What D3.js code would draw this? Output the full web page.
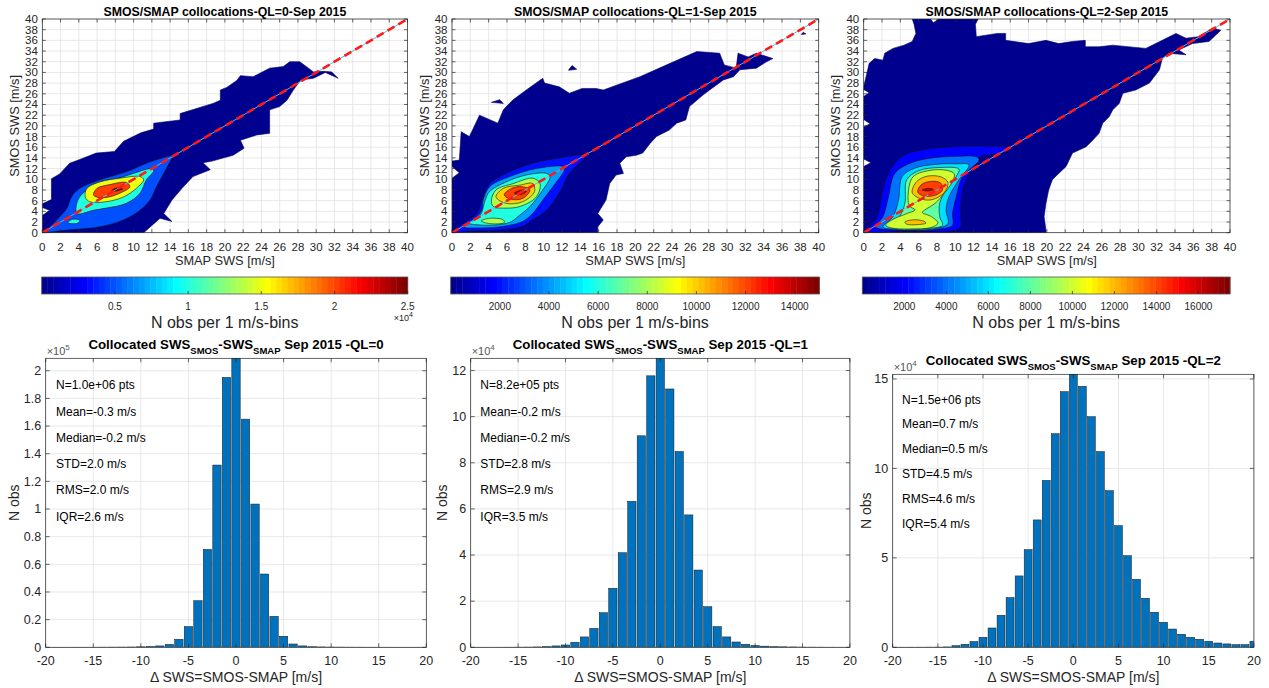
<!DOCTYPE html>
<html><head><meta charset="utf-8">
<script src="https://cdn.jsdelivr.net/npm/d3@7"></script>
<style>
body{margin:0;background:#fff;}
svg{display:block;font-family:"Liberation Sans",Arial,Helvetica,sans-serif;}
</style></head><body>
<svg id="chart" width="1269" height="688"></svg>
<script>
// ---------------- DATA ----------------
const scatterTitles = ["SMOS/SMAP collocations-QL=0-Sep 2015","SMOS/SMAP collocations-QL=1-Sep 2015","SMOS/SMAP collocations-QL=2-Sep 2015"];
const swsTicks = [0,2,4,6,8,10,12,14,16,18,20,22,24,26,28,30,32,34,36,38,40];
const colorbarMax = [25000, 15000, 17500];
const cbTicks0 = [5000,10000,15000,20000,25000];
const cbTicks1 = [2000,4000,6000,8000,10000,12000,14000];
const cbTicks2 = [2000,4000,6000,8000,10000,12000,14000,16000];

// contour outlines [SMAP SWS, SMOS SWS] per level
const ql0_l0 = [[0,0],[11.1,0],[12.9,2.7],[14.2,2.1],[13.3,3.6],[14.2,6.1],[15.3,8.3],[16.5,10.5],[18.4,11.8],[17.6,13.1],[18.6,13.4],[20.9,14.5],[22.1,15.8],[21.7,17.3],[23.5,18.3],[24.9,18.6],[24.9,23],[26,23.6],[26.8,24.8],[27.5,26.7],[28.3,28.6],[29.7,28.9],[31,30],[32.4,28.9],[31.7,30.1],[30.8,30.2],[29.7,30.1],[28.2,32],[27.1,32],[26.4,31.1],[24.9,30.8],[23.1,29.2],[21.7,29.4],[21.3,28.5],[20.2,27.2],[19.5,26.7],[19.5,24.8],[18.7,24.2],[15.1,22.3],[15.1,21.1],[12.2,20.5],[12.2,19.4],[10.8,18.7],[8.9,17.1],[7.9,15.2],[5.9,14.9],[4.1,13.7],[3,13],[1.9,11],[1,10.1],[1,6.2],[0,5.4],[0,4.7],[0.8,4.2],[0,3.2]];
const ql0_l5000 = [[0.1,0.1],[2.7,0.5],[6.3,1.1],[8.9,2.4],[10.7,4.2],[11.8,6.1],[12.5,8.6],[13.3,11.1],[14.2,13.9],[14.4,14.4],[13.6,14.2],[11.4,13],[9.2,11.4],[6.3,9.9],[4.1,8.3],[3.2,6.7],[2.7,4.6],[1.75,2.7],[0.5,0.6]];
const ql0_l10000a = [[3.8,3.6],[3.9,6.1],[4.9,8],[7.4,9.6],[10,11.1],[12,12],[12.2,11.6],[11.4,9.9],[10.7,7.4],[9.2,5.5],[7,4.6],[5.6,4.2]];
const ql0_l10000b = [[2.8,1.9],[3.3,2.5],[4.1,2.3],[3.9,1.8],[3.2,1.7]];
const ql0_l15000 = [[4.7,6.7],[4.9,8.3],[6.3,9.5],[8.5,10.2],[10.7,10.5],[11.1,9.9],[10.3,8.3],[8.9,6.7],[7,5.8],[5.2,5.8]];
const ql0_l20000 = [[5.6,7.1],[6,8.3],[7.4,9],[9.2,9.4],[9.6,8.6],[8.5,7.4],[7,6.6],[5.9,6.7]];
const ql0_l25000 = [[7.6,7.9],[8.2,8.4],[8.8,8.2],[8.1,7.8]];

const ql1_l0 = [[0,0],[0,10.2],[0.8,11.2],[0,12.4],[0,13.4],[0.8,13.6],[1,18.9],[1.9,18],[3,22],[5,20.5],[5.6,23],[6.6,24.8],[8.1,26.7],[9.9,28.9],[10.1,28],[11.7,27.3],[12.8,26.1],[14.2,27],[15.7,27],[16.5,26.7],[20.5,29.2],[23,31.1],[26.7,33.9],[29.2,33.6],[29.7,31.4],[31,30.8],[31.2,33.6],[32.3,32.9],[33.2,33.6],[35,32.6],[34.3,32],[33.2,30.8],[31.4,30.5],[30.7,29.2],[29.6,28.6],[28.1,26.7],[27.4,25.8],[25.9,23.6],[25.5,21.1],[24.5,20.5],[23.7,19.2],[22.3,18],[21.6,16.7],[20.8,14.9],[20.1,14.5],[19,14.2],[18.3,13],[18.7,11.1],[17.9,10.8],[17.2,9.2],[16.8,6.1],[15.9,3.6],[16.5,2.4],[15.9,1.1],[15.9,0]];
const ql1_l0b = [[4.3,24.4],[5.6,24.2],[5.2,24.9]];
const ql1_l0c = [[12.7,30.4],[13.6,30.6],[13.1,31.3]];
const ql1_l0d = [[38.1,37.1],[38.6,37.2],[38.3,37.5]];
const ql1_l2000 = [[0.1,0.1],[1.2,1.7],[2.7,3.6],[3.4,6.7],[4.1,9.2],[5.9,11.1],[8.8,13],[11.4,13.9],[14.2,14.5],[14.5,14.2],[12.8,11.1],[11.7,7.4],[10.3,4.2],[8.8,2.4],[7.7,1.2],[5.2,0.5],[2,0.3]];
const ql1_l4000 = [[1.2,1.1],[2.3,2.4],[3.2,4],[3.4,6.1],[4.1,8.6],[6.3,10.5],[9.2,12],[12.1,12.4],[12.3,12],[11,8.6],[9.9,6.1],[8.8,3.6],[7.7,2.1],[5.6,1.2],[3.4,0.9]];
const ql1_l6000 = [[1.8,1.8],[2.6,2.5],[3.2,3.6],[3.6,6],[4.1,7.7],[5.9,9.5],[8.1,10.8],[10.3,11.1],[10.7,10.5],[9.9,8],[8.5,4.9],[7.4,3.3],[6.5,2.1],[5.5,1.6],[3.5,1.4]];
const ql1_l8000a = [[4.3,6.1],[4.8,8],[6.7,9.2],[8.8,10.2],[9.6,9.2],[9.2,6.7],[7.4,4.9],[5.9,4.6],[4.5,4.9]];
const ql1_l8000b = [[3.2,2.2],[4.1,2.7],[5.6,2.4],[5.7,1.9],[4.1,1.7]];
const ql1_l10000 = [[4.8,6.7],[5.6,8.3],[7.4,8.9],[8.8,9.2],[9,7.7],[7.7,5.8],[5.9,5.5]];
const ql1_l12000 = [[5.7,7.1],[6.5,8.3],[7.7,8.6],[8.5,8],[7.7,6.4],[6.3,6.3]];
const ql1_l14000 = [[6.8,7.4],[7.7,8],[8.1,7.7],[7.4,7.1]];

const ql2_l0 = [[0,0],[0,12.4],[0.8,13.1],[0,13.8],[0,19.8],[0.7,20.4],[0,21.2],[0,25.5],[0.6,26.2],[0,26.8],[0,27.3],[0.6,31.7],[1.2,32.6],[2.1,32.3],[2.3,33.6],[3.2,34.5],[4.4,35.1],[5.3,35.8],[5.7,37.3],[5.5,39],[5.3,40],[7.3,40],[7.6,39.3],[8.2,40],[12.5,40],[12.2,39],[12.3,36.7],[14.6,37.3],[15.5,37.3],[15.5,36],[18,35.4],[19.9,36],[21.3,35.4],[22.8,35.8],[24.2,36],[24.2,34.8],[25.7,34.8],[27.2,35.1],[30.8,34.5],[32.6,36],[34.1,37.3],[35.2,36.4],[36.6,36.7],[38.1,38.3],[39,37.9],[37.7,35.8],[35.9,35.4],[34.4,34.2],[35.2,33.3],[33.3,33.6],[32.6,32.6],[32.3,30.5],[31.2,28],[29.7,26.7],[28.3,26.1],[27.9,24.2],[27.2,23],[26.8,21.7],[26.1,20.5],[25.7,18.6],[25,17.3],[24.3,16.1],[22.8,14.9],[22.1,12.4],[21.3,11.1],[20.6,9.9],[20.2,8],[19.9,5.5],[19.7,3],[19.9,0.5],[19.9,0]];
const ql2_l2000 = [[0.25,0.3],[1,1.7],[1.6,3.6],[2,7.4],[2.7,11.1],[4.1,14.2],[6.3,15.5],[9.7,16.1],[13.3,16.2],[15.9,15.9],[15.2,14.9],[12.6,14.1],[11.5,11.1],[10.8,8],[10.6,3.6],[10.6,1.1],[10,0.4],[5,0.3]];
const ql2_l4000 = [[1.3,1.1],[2.1,3],[2.7,6.7],[3.4,11.1],[5.2,13.1],[7.5,14],[10.1,14.3],[12.3,14.2],[12.6,13.6],[10.8,10.5],[10.1,6.7],[9.7,3.6],[9.7,1.4],[8.3,0.7],[3.5,0.5]];
const ql2_l6000 = [[2.1,1.1],[3.2,3],[3.8,6.1],[4.2,10.5],[5.6,12.1],[7.9,12.8],[10.1,12.9],[11.5,12.7],[10.4,9.9],[9.3,6.7],[9,4.2],[9.2,1.7],[7.9,0.8],[3.5,0.6]];
const ql2_l8000 = [[2.8,1.1],[3.9,3],[4.5,5.5],[4.7,9.9],[6,11.6],[8.3,12.2],[10.4,11.9],[10.1,10.5],[9,8],[8.3,5.5],[8.3,3],[8.6,1.4],[6.8,0.8],[4,0.8]];
const ql2_l10000 = [[5,5],[4.9,8],[5.4,10.5],[7,11.6],[9,11.7],[9.9,11],[9.6,9.3],[8.8,7.4],[7.8,5.5],[6.8,4.4],[6.4,3.8],[7.4,3],[8.1,1.8],[7.4,1],[5,0.7],[3,0.9],[2.4,1.4],[3.2,2.5],[4.6,3.5],[5.6,4.3]];
const ql2_l12000a = [[5.3,7.5],[5.8,9.6],[7,10.6],[8.5,10.4],[9.2,9.4],[8.8,7.5],[7.5,6.2],[6.3,6.3]];
const ql2_l12000b = [[4.5,2],[5.3,2.4],[6.5,2.2],[6.8,1.8],[5.8,1.5],[4.7,1.6]];
const ql2_l14000 = [[5.9,7.6],[6.3,9],[7.3,9.6],[8.4,9.3],[8.6,8],[7.8,7],[6.5,6.9]];
const ql2_l16000 = [[6.4,8],[7,8.3],[7.6,8.1],[7,7.8]];

// histogram data
const binCenters = [-20,-19,-18,-17,-16,-15,-14,-13,-12,-11,-10,-9,-8,-7,-6,-5,-4,-3,-2,-1,0,1,2,3,4,5,6,7,8,9,10,11,12,13,14,15,16,17,18,19,20];
const countsQL0 = [20,25,30,40,50,70,90,120,160,220,350,600,1000,2100,5800,15000,33700,70800,131800,195200,209000,165000,103600,53000,22400,8000,2400,1000,400,250,180,130,100,80,60,50,40,35,30,25,20];
const countsQL1 = [10,15,20,30,40,60,90,150,300,600,1000,2200,4500,8200,15000,25600,41000,63300,91700,117700,125300,112000,84900,57400,33500,17600,9000,4500,2300,1300,800,500,300,200,150,100,70,50,40,30,20];
const countsQL2 = [30,40,50,60,80,100,200,900,1700,3200,5600,10800,17900,27800,39900,54600,71200,93300,119400,142900,152600,145900,128900,109400,87600,68000,51200,38000,27400,19600,14000,10200,7300,5600,4500,3400,2400,1900,1500,1500,3400];
const histXTicks = [-20,-15,-10,-5,0,5,10,15,20];
const histYTicks0 = [0,20000,40000,60000,80000,100000,120000,140000,160000,180000,200000];
const histYTicks1 = [0,20000,40000,60000,80000,100000,120000];
const histYTicks2 = [0,50000,100000,150000];
const statsQL0 = ["N=1.0e+06 pts","Mean=-0.3 m/s","Median=-0.2 m/s","STD=2.0 m/s","RMS=2.0 m/s","IQR=2.6 m/s"];
const statsQL1 = ["N=8.2e+05 pts","Mean=-0.2 m/s","Median=-0.2 m/s","STD=2.8 m/s","RMS=2.9 m/s","IQR=3.5 m/s"];
const statsQL2 = ["N=1.5e+06 pts","Mean=0.7 m/s","Median=0.5 m/s","STD=4.5 m/s","RMS=4.6 m/s","IQR=5.4 m/s"];
const qlLabels = ["0","1","2"];

// ---------------- HELPERS ----------------
const svg = d3.select("#chart");
const AX = "#262626", GRID = "#e2e2e2";
function u(k){ if(k>=1&&k<=16) return k/16; if(k>=17&&k<=31) return 1; if(k>=32&&k<=47) return (48-k)/16; return 0; }
function jet(i){ return d3.rgb(Math.round(u(i-23)*255), Math.round(u(i-7)*255), Math.round(u(i+9)*255)).toString(); }
function levelColor(L,cmax){ let i=Math.floor(L/cmax*64); return jet(Math.max(0,Math.min(63,i))); }

let clipId=0;
function scatterPanel(idx, x0, x1, contourSet, ylabX){
  const y0=232.7, y1=19, cmax=colorbarMax[idx];
  const xs=d3.scaleLinear([0,40],[x0,x1]), ys=d3.scaleLinear([0,40],[y0,y1]);
  const g=svg.append("g");
  g.append("g").selectAll("line.v").data(swsTicks).join("line")
    .attr("x1",d=>xs(d)).attr("x2",d=>xs(d)).attr("y1",y0).attr("y2",y1).attr("stroke",GRID).attr("stroke-width",0.8);
  g.append("g").selectAll("line.h").data(swsTicks).join("line")
    .attr("y1",d=>ys(d)).attr("y2",d=>ys(d)).attr("x1",x0).attr("x2",x1).attr("stroke",GRID).attr("stroke-width",0.8);
  const cid="clip"+(clipId++);
  g.append("clipPath").attr("id",cid).append("rect").attr("x",x0).attr("y",y1).attr("width",x1-x0).attr("height",y0-y1);
  const cg=g.append("g").attr("clip-path",`url(#${cid})`);
  contourSet.forEach(([L,polys])=>{
    const line=d3.line().x(d=>xs(d[0])).y(d=>ys(d[1])).curve(L===0?d3.curveLinearClosed:d3.curveCatmullRomClosed.alpha(0.5));
    polys.forEach(p=>{
      cg.append("path").attr("d",line(p)).attr("fill",levelColor(L,cmax))
        .attr("stroke",L===0?"#00005a":"#111").attr("stroke-width",0.6).attr("stroke-linejoin","round");
    });
  });
  cg.append("line").attr("x1",xs(0)).attr("y1",ys(0)).attr("x2",xs(40)).attr("y2",ys(40)).attr("stroke","#4DBEEE").attr("stroke-width",1);
  cg.append("line").attr("x1",xs(0)).attr("y1",ys(0)).attr("x2",xs(40)).attr("y2",ys(40)).attr("stroke","#ff1a1a").attr("stroke-width",2.6).attr("stroke-dasharray","8,4.5");
  g.append("rect").attr("x",x0).attr("y",y1).attr("width",x1-x0).attr("height",y0-y1).attr("fill","none").attr("stroke",AX).attr("stroke-width",0.7);
  const tk=g.append("g").attr("stroke",AX).attr("stroke-width",0.7);
  swsTicks.forEach(t=>{
    tk.append("line").attr("x1",xs(t)).attr("x2",xs(t)).attr("y1",y0).attr("y2",y0-3.5);
    tk.append("line").attr("x1",xs(t)).attr("x2",xs(t)).attr("y1",y1).attr("y2",y1+3.5);
    tk.append("line").attr("y1",ys(t)).attr("y2",ys(t)).attr("x1",x0).attr("x2",x0+3.5);
    tk.append("line").attr("y1",ys(t)).attr("y2",ys(t)).attr("x1",x1).attr("x2",x1-3.5);
  });
  g.append("g").selectAll("text").data(swsTicks).join("text")
    .attr("x",d=>xs(d)).attr("y",250.5).attr("text-anchor","middle").attr("font-size",11.5).attr("fill",AX).text(d=>d);
  g.append("g").selectAll("text").data(swsTicks).join("text")
    .attr("x",x0-4.5).attr("y",d=>ys(d)+4).attr("text-anchor","end").attr("font-size",11.5).attr("fill",AX).text(d=>d);
  g.append("text").attr("x",(x0+x1)/2).attr("y",16).attr("text-anchor","middle").attr("font-size",12.3).attr("font-weight","bold").attr("fill","#000").text(scatterTitles[idx]);
  g.append("text").attr("x",(x0+x1)/2).attr("y",265).attr("text-anchor","middle").attr("font-size",12.8).attr("fill",AX).text("SMAP SWS [m/s]");
  g.append("text").attr("transform",`translate(${ylabX},${(y0+y1)/2}) rotate(-90)`).attr("text-anchor","middle").attr("dy","0.35em").attr("font-size",12.8).attr("fill",AX).text("SMOS SWS [m/s]");
}

function colorbar(idx, x0, x1, ticks, fmt, showExp){
  const y0=277, y1=294, cmax=colorbarMax[idx];
  const cs=d3.scaleLinear([0,cmax],[x0,x1]);
  const g=svg.append("g");
  const steps=d3.range(64);
  g.selectAll("rect.s").data(steps).join("rect")
    .attr("x",i=>x0+(x1-x0)*i/64).attr("width",(x1-x0)/64+0.4).attr("y",y0).attr("height",y1-y0).attr("fill",i=>jet(i));
  g.append("rect").attr("x",x0).attr("y",y0).attr("width",x1-x0).attr("height",y1-y0).attr("fill","none").attr("stroke","#555").attr("stroke-width",0.8);
  g.selectAll("line.t").data(ticks).join("line").attr("x1",d=>cs(d)).attr("x2",d=>cs(d)).attr("y1",y1).attr("y2",y1-3).attr("stroke",AX).attr("stroke-width",0.7);
  g.selectAll("text.t").data(ticks).join("text").attr("x",d=>cs(d)).attr("y",309.5).attr("text-anchor","middle").attr("font-size",10).attr("fill",AX).text(fmt);
  g.append("text").attr("x",(x0+x1)/2).attr("y",328).attr("text-anchor","middle").attr("font-size",16).attr("fill",AX).text("N obs per 1 m/s-bins");
  if(showExp){
    const t=g.append("text").attr("x",x1-14).attr("y",321).attr("font-size",9).attr("fill",AX);
    t.append("tspan").text("×10");
    t.append("tspan").attr("dy",-4).attr("font-size",7).text("4");
  }
}

function histPanel(idx, x0, x1, yTop, counts, yTicks, div, expo, stats, statsX, statsY0, statsDy, titleY, ylabX){
  const yB=647.3;
  const xs=d3.scaleLinear([-20,20],[x0,x1]);
  const ys=d3.scaleLinear([0,d3.max(counts)],[yB,yTop]);
  const g=svg.append("g");
  g.append("g").selectAll("line").data(histXTicks).join("line").attr("x1",d=>xs(d)).attr("x2",d=>xs(d)).attr("y1",yB).attr("y2",yTop).attr("stroke",GRID).attr("stroke-width",0.8);
  g.append("g").selectAll("line").data(yTicks).join("line").attr("y1",d=>ys(d)).attr("y2",d=>ys(d)).attr("x1",x0).attr("x2",x1).attr("stroke",GRID).attr("stroke-width",0.8);
  const cid="clip"+(clipId++);
  g.append("clipPath").attr("id",cid).append("rect").attr("x",x0).attr("y",yTop-1).attr("width",x1-x0).attr("height",yB-yTop+1);
  const bw=0.88;
  g.append("g").attr("clip-path",`url(#${cid})`).selectAll("rect").data(binCenters).join("rect")
    .attr("x",(d)=>xs(d-bw/2)).attr("width",xs(bw)-xs(0))
    .attr("y",(d,i)=>ys(counts[i])).attr("height",(d,i)=>yB-ys(counts[i]))
    .attr("fill","#0072BD").attr("stroke","#1a1a1a").attr("stroke-width",0.5);
  g.append("rect").attr("x",x0).attr("y",yTop).attr("width",x1-x0).attr("height",yB-yTop).attr("fill","none").attr("stroke",AX).attr("stroke-width",0.7);
  const tk=g.append("g").attr("stroke",AX).attr("stroke-width",0.7);
  histXTicks.forEach(t=>{
    tk.append("line").attr("x1",xs(t)).attr("x2",xs(t)).attr("y1",yB).attr("y2",yB-4);
    tk.append("line").attr("x1",xs(t)).attr("x2",xs(t)).attr("y1",yTop).attr("y2",yTop+4);
  });
  yTicks.forEach(t=>{
    tk.append("line").attr("y1",ys(t)).attr("y2",ys(t)).attr("x1",x0).attr("x2",x0+4);
    tk.append("line").attr("y1",ys(t)).attr("y2",ys(t)).attr("x1",x1).attr("x2",x1-4);
  });
  g.append("g").selectAll("text").data(histXTicks).join("text").attr("x",d=>xs(d)).attr("y",664.5).attr("text-anchor","middle").attr("font-size",12.5).attr("fill",AX).text(d=>d);
  g.append("g").selectAll("text").data(yTicks).join("text").attr("x",x0-4.5).attr("y",d=>ys(d)+4.3).attr("text-anchor","end").attr("font-size",12.5).attr("fill",AX).text(d=>String(+(d/div).toFixed(1)));
  const ex=g.append("text").attr("x",x0+1).attr("y",yTop-3).attr("font-size",11).attr("fill","#555");
  ex.append("tspan").text("×10"); ex.append("tspan").attr("dy",-5).attr("font-size",8).text(expo);
  const tt=g.append("text").attr("x",(x0+x1)/2).attr("y",titleY).attr("text-anchor","middle").attr("font-size",13.3).attr("font-weight","bold").attr("fill","#000");
  tt.append("tspan").text("Collocated SWS");
  tt.append("tspan").attr("dy",5).attr("font-size",9.5).text("SMOS");
  tt.append("tspan").attr("dy",-5).text("-SWS");
  tt.append("tspan").attr("dy",5).attr("font-size",9.5).text("SMAP");
  tt.append("tspan").attr("dy",-5).text(" Sep 2015 -QL="+qlLabels[idx]);
  g.append("g").selectAll("text").data(stats).join("text").attr("x",statsX).attr("y",(d,i)=>statsY0+i*statsDy+4.2).attr("font-size",12).attr("fill","#000").text(d=>d);
  g.append("text").attr("x",(x0+x1)/2).attr("y",682).attr("text-anchor","middle").attr("font-size",14).attr("fill",AX).text("Δ SWS=SMOS-SMAP [m/s]");
  g.append("text").attr("transform",`translate(${ylabX},${(yB+yTop)/2}) rotate(-90)`).attr("text-anchor","middle").attr("dy","0.35em").attr("font-size",14).attr("fill",AX).text("N obs");
}

// ---------------- DRAW ----------------
scatterPanel(0, 42.3, 407.5, [[0,[ql0_l0]],[5000,[ql0_l5000]],[10000,[ql0_l10000a,ql0_l10000b]],[15000,[ql0_l15000]],[20000,[ql0_l20000]],[25000,[ql0_l25000]]], 15);
scatterPanel(1, 452, 818.7, [[0,[ql1_l0,ql1_l0b,ql1_l0c,ql1_l0d]],[2000,[ql1_l2000]],[4000,[ql1_l4000]],[6000,[ql1_l6000]],[8000,[ql1_l8000a,ql1_l8000b]],[10000,[ql1_l10000]],[12000,[ql1_l12000]],[14000,[ql1_l14000]]], 425);
scatterPanel(2, 863.7, 1230, [[0,[ql2_l0]],[2000,[ql2_l2000]],[4000,[ql2_l4000]],[6000,[ql2_l6000]],[8000,[ql2_l8000]],[10000,[ql2_l10000]],[12000,[ql2_l12000a,ql2_l12000b]],[14000,[ql2_l14000]],[16000,[ql2_l16000]]], 836);

colorbar(0, 41.7, 407.7, cbTicks0, d=>String(d/10000), true);
colorbar(1, 450.7, 819.3, cbTicks1, d=>String(d), false);
colorbar(2, 862.3, 1230, cbTicks2, d=>String(d), false);

histPanel(0, 45.7, 426.3, 358.3, countsQL0, histYTicks0, 1e5, "5", statsQL0, 56, 385, 26.3, 349, 14);
histPanel(1, 470.7, 849.9, 358.3, countsQL1, histYTicks1, 1e4, "4", statsQL1, 480.3, 385, 26.3, 349, 442);
histPanel(2, 892.7, 1253.9, 374.3, countsQL2, histYTicks2, 1e4, "4", statsQL2, 902, 399.3, 24.9, 365, 866);
</script>
</body></html>
